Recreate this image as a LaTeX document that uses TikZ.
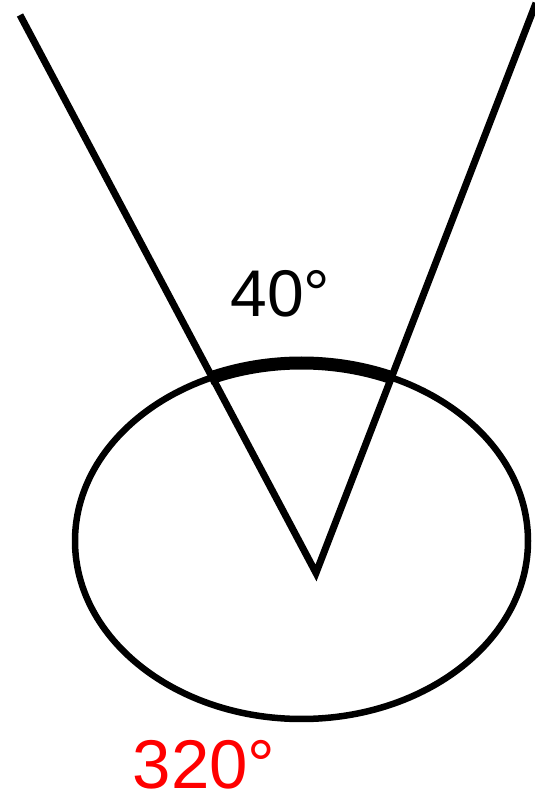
\documentclass[tikz,border=0pt]{standalone}
\usepackage{fontspec}
\setmainfont{Liberation Sans}
\begin{document}
\begin{tikzpicture}[x=1pt,y=1pt,
  rim/.style={line width=6.5pt},
  ray/.style={line width=7pt},
  bigarc/.style={line width=13pt},
  lbl/.style={anchor=base,inner sep=0pt,text depth=0pt}]
\useasboundingbox (0,0) rectangle (535,804);
\coordinate (c) at (301.5,263);
\coordinate (v) at (316,231);
\coordinate (l) at (20,789);
\coordinate (r) at (536,801);
\draw[rim] (c) ellipse [x radius=226.5, y radius=178];
\draw[bigarc] (c) ++(66:226.5 and 178) arc[start angle=66, end angle=114, x radius=226.5, y radius=178];
\draw[ray,line join=miter] (l) -- (v) -- (r);
\node[lbl,font=\fontsize{66}{70}\selectfont] (a) at (280.5,487) {40°};
\node[lbl,font=\fontsize{69}{72}\selectfont,text=red] (b) at (204,15.5) {320°};
\end{tikzpicture}
\end{document}
